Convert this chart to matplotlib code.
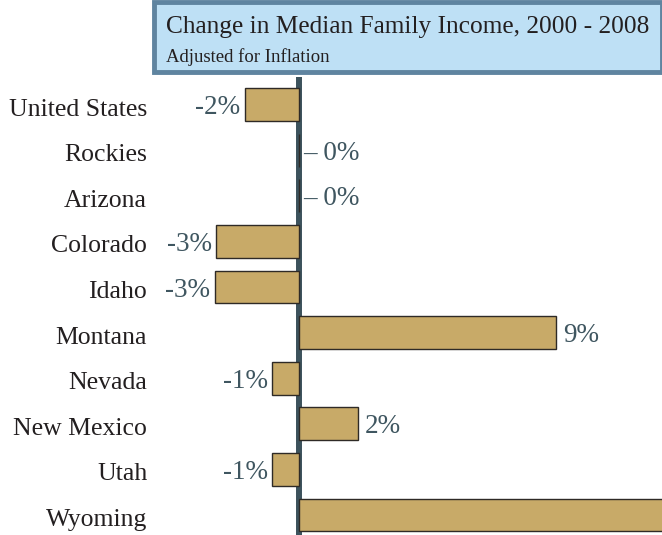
import matplotlib.pyplot as plt
import matplotlib.transforms as mtransforms
from matplotlib.patches import Rectangle

# === Data ===
regions = ["United States", "Rockies", "Arizona", "Colorado", "Idaho",
           "Montana", "Nevada", "New Mexico", "Utah", "Wyoming"]
change_pct = [-1.9, 0.0, 0.0, -2.9, -2.95, 9.0, -0.95, 2.05, -0.95, 14.0]
value_labels = ["-2%", "0%", "0%", "-3%", "-3%", "9%", "-1%", "2%", "-1%", "14%"]

title_main = "Change in Median Family Income, 2000 - 2008"
title_sub = "Adjusted for Inflation"

# === Style ===
SERIF = ["Liberation Serif", "DejaVu Serif"]
BAR_COLOR = "#c8aa68"
BAR_EDGE = "#2e2a26"
AXIS_COLOR = "#3c525c"
VALUE_COLOR = "#3f5660"
LABEL_COLOR = "#231f20"

W, H = 662, 535
fig = plt.figure(figsize=(W / 100, H / 100), dpi=100)

# axes box in pixels: left 150 -> right edge, top 77 -> bottom
ax = fig.add_axes([150 / W, 0, 1 - 150 / W, 1 - 77 / H])

PX_PER_PCT = 28.6
ZERO_PX = 299
xmin, xmax = (150 - ZERO_PX) / PX_PER_PCT, (W - ZERO_PX) / PX_PER_PCT
ax.set_xlim(xmin, xmax)
ROW = 45.6
ax.set_ylim(9 + (535 - 515) / ROW, -(104.5 - 77) / ROW)

ypos = list(range(len(regions)))
ax.axvline(0, color=AXIS_COLOR, lw=4.3, zorder=1)
ax.barh(ypos, change_pct, height=0.72, color=BAR_COLOR,
        edgecolor=BAR_EDGE, linewidth=1.0, zorder=2)

for y, v, lab in zip(ypos, change_pct, value_labels):
    if v < 0:
        x, ha, txt = v - 0.15, "right", lab
    elif v == 0:
        x, ha, txt = 0.15, "left", "\u2013 " + lab
    else:
        x, ha, txt = v + 0.25, "left", lab
    if x > xmax:
        continue  # label falls past the right edge of the picture
    ax.text(x, y + 0.07, txt, ha=ha, va="center", fontsize=19.5,
            color=VALUE_COLOR, family=SERIF)

ax.set_yticks(ypos)
ax.set_yticklabels(regions, family=SERIF, fontsize=18.5, color=LABEL_COLOR)
ax.tick_params(axis="y", length=0, pad=2)
# nudge category labels down a little to sit level with the bars
shift = mtransforms.ScaledTranslation(0, -2.5 / 100, fig.dpi_scale_trans)
for t in ax.get_yticklabels():
    t.set_transform(t.get_transform() + shift)
ax.set_xticks([])
for s in ax.spines.values():
    s.set_visible(False)

# === Title box ===
box = Rectangle((154 / W, 1 - 72 / H), (W - 154) / W, 70 / H, transform=fig.transFigure,
                facecolor="#bee0f5", edgecolor="#5f84a0", linewidth=3.5, zorder=5)
fig.patches.append(box)
fig.text(166 / W, 1 - 27 / H, title_main, family=SERIF, fontsize=18.3,
         color="#231f20", va="center", ha="left", zorder=6)
fig.text(166 / W, 1 - 57 / H, title_sub, family=SERIF, fontsize=13.5,
         color="#231f20", va="center", ha="left", zorder=6)

plt.savefig("out.png", dpi=100)
